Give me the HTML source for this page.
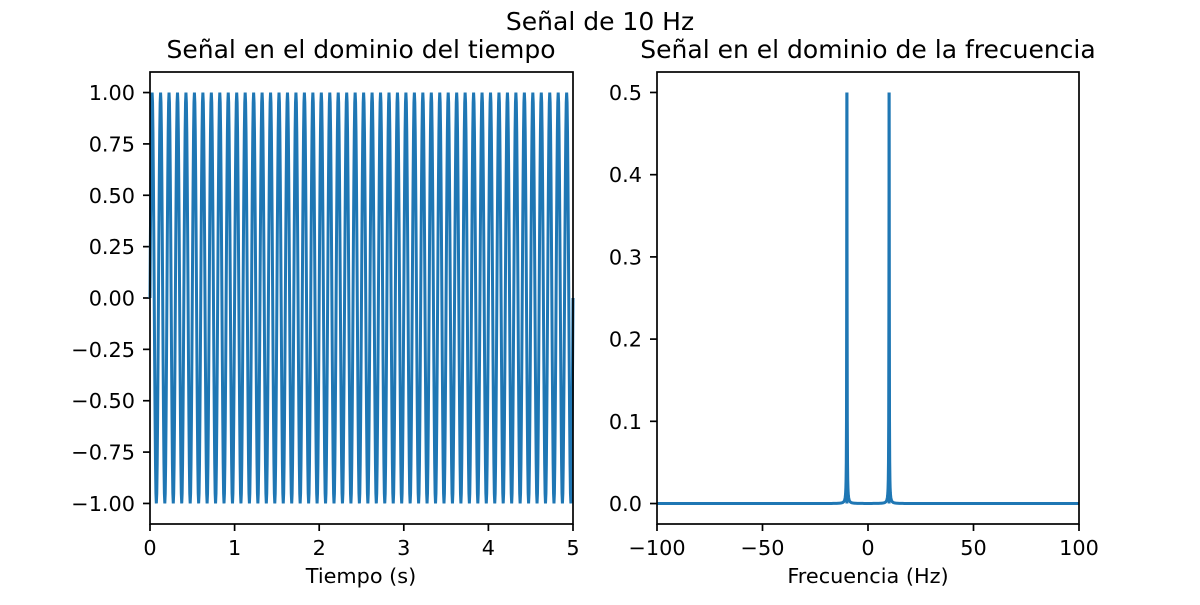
<!DOCTYPE html>
<html><head><meta charset="utf-8">
<style>
body{margin:0;background:#fff;}
svg text{font-family:"DejaVu Sans","Liberation Sans",sans-serif;fill:#000;}
</style></head>
<body>
<svg id="fig" width="1200" height="600" viewBox="0 0 1200 600" xmlns="http://www.w3.org/2000/svg">
<rect width="1200" height="600" fill="#fff"/>
<text x="600" y="30" font-size="25" text-anchor="middle">Señal de 10 Hz</text>
<text x="361" y="58" font-size="25" text-anchor="middle">Señal en el dominio del tiempo</text>
<text x="868" y="58" font-size="25" text-anchor="middle">Señal en el dominio de la frecuencia</text>
<text x="361" y="583" font-size="20.8" text-anchor="middle">Tiempo (s)</text>
<text x="868" y="583" font-size="20.8" text-anchor="middle">Frecuencia (Hz)</text>
<g id="left"></g>
<g id="right"></g>
</svg>
<script>
// time-domain data
const signalFreqHz = [10];
const signalAmp = [1];
const timeRange = [0, 5];
const leftXTicks = [0, 1, 2, 3, 4, 5];
const leftYTicks = [-1.00, -0.75, -0.50, -0.25, 0.00, 0.25, 0.50, 0.75, 1.00];
// frequency-domain data
const peakFreqs = [-10, 10];
const peakHeights = [0.5, 0.5];
const rightXTicks = [-100, -50, 0, 50, 100];
const rightYTicks = [0.0, 0.1, 0.2, 0.3, 0.4, 0.5];

const NS = "http://www.w3.org/2000/svg";
function mk(tag, attrs, parent){const e=document.createElementNS(NS,tag);for(const k in attrs)e.setAttribute(k,attrs[k]);parent.appendChild(e);return e;}

function axes(g, x0,x1,y0,y1, xd, yd, xt, yt, xfmt, yfmt){
  const sx=v=>x0+(v-xd[0])/(xd[1]-xd[0])*(x1-x0);
  const sy=v=>y1-(v-yd[0])/(yd[1]-yd[0])*(y1-y0);
  xt.forEach(v=>{
    const x=sx(v);
    mk('line',{x1:x,x2:x,y1:y1,y2:y1+7,stroke:'#000','stroke-width':1.7},g);
    const t=mk('text',{x:x,y:y1+31,'font-size':20.8,'text-anchor':'middle'},g);
    
    
    t.textContent=xfmt(v);
  });
  yt.forEach(v=>{
    const y=sy(v);
    mk('line',{x1:x0-7,x2:x0,y1:y,y2:y,stroke:'#000','stroke-width':1.7},g);
    const t=mk('text',{x:x0-15,y:y+7.5,'font-size':20.8,'text-anchor':'end'},g);
    
    
    t.textContent=yfmt(v);
  });
  return {sx,sy};
}
const fmtMinus=s=>s.replace('-','\u2212');

// Left plot
const L=document.getElementById('left');
const la=axes(L,150,573,72,524,[0,5],[-1.1,1.1],leftXTicks,leftYTicks,v=>String(v),v=>fmtMinus(v.toFixed(2)));
let d='';
const fs=200;
for(let i=0;i<=timeRange[1]*fs;i++){
  const t=i/fs;let y=0;
  signalFreqHz.forEach((f,k)=>{y+=signalAmp[k]*Math.sin(2*Math.PI*f*t);});
  d+=(i?'L':'M')+la.sx(t).toFixed(2)+' '+la.sy(y).toFixed(2);
}
const p1=mk('path',{d:d,fill:'none',stroke:'#1f77b4','stroke-width':3},L);


const f1=mk('rect',{x:150,y:72,width:423,height:452,fill:'none',stroke:'#000','stroke-width':1.7},L);



// Right plot
const R=document.getElementById('right');
const ra=axes(R,657,1079,72,524,[-100,100],[-0.0249,0.5249],rightXTicks,rightYTicks,v=>fmtMinus(String(v)),v=>v.toFixed(1));
let d2='';
const N=2000;
for(let i=0;i<=N;i++){
  const f=-100+200*i/N;let y=0;
  peakFreqs.forEach((pf,k)=>{const w=0.1;y+=peakHeights[k]*w*w/((f-pf)*(f-pf)+w*w);});
  d2+=(i?'L':'M')+ra.sx(f).toFixed(2)+' '+ra.sy(y).toFixed(2);
}
const p2=mk('path',{d:d2,fill:'none',stroke:'#1f77b4','stroke-width':3},R);


peakFreqs.forEach((pf,k)=>{
  const l=mk('line',{x1:ra.sx(pf),x2:ra.sx(pf),y1:ra.sy(0),y2:ra.sy(peakHeights[k]),stroke:'#1f77b4','stroke-width':3},R);
  
  
});
const f2=mk('rect',{x:657,y:72,width:422,height:452,fill:'none',stroke:'#000','stroke-width':1.7},R);


</script>
</body></html>
